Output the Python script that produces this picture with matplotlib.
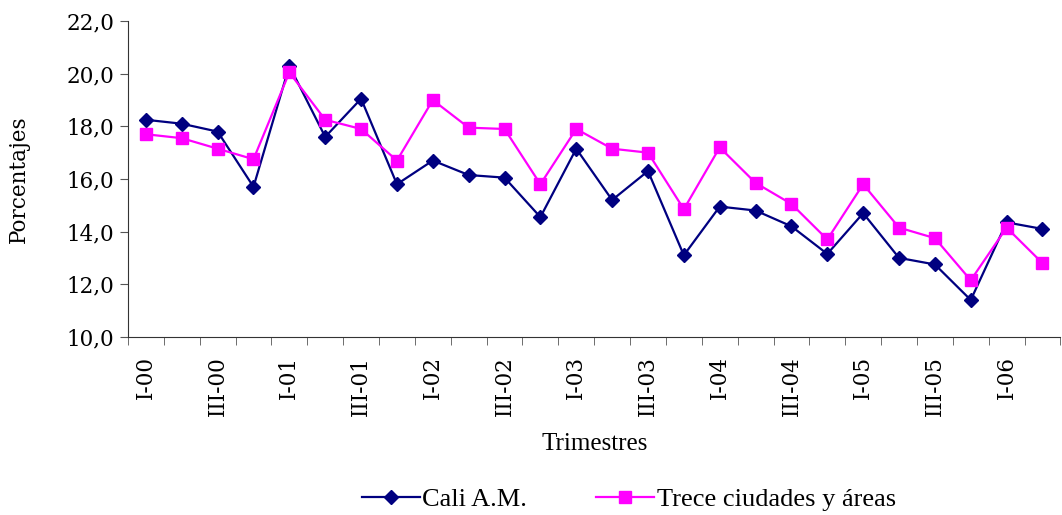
import numpy as np
import matplotlib.pyplot as plt

# Trimestres 2000-I a 2006-II
trimestres = ['I-00', 'II-00', 'III-00', 'IV-00', 'I-01', 'II-01', 'III-01', 'IV-01',
              'I-02', 'II-02', 'III-02', 'IV-02', 'I-03', 'II-03', 'III-03', 'IV-03',
              'I-04', 'II-04', 'III-04', 'IV-04', 'I-05', 'II-05', 'III-05', 'IV-05',
              'I-06', 'II-06']

cali = [18.25, 18.1, 17.8, 15.7, 20.3, 17.6, 19.05, 15.8,
        16.7, 16.15, 16.05, 14.55, 17.15, 15.2, 16.3, 13.1,
        14.95, 14.8, 14.2, 13.15, 14.7, 13.0, 12.75, 11.4,
        14.35, 14.1]

trece = [17.7, 17.55, 17.15, 16.75, 20.05, 18.25, 17.9, 16.7,
         19.0, 17.95, 17.9, 15.8, 17.9, 17.15, 17.0, 14.85,
         17.2, 15.85, 15.05, 13.7, 15.8, 14.15, 13.75, 12.15,
         14.15, 12.8]

x = np.arange(len(trimestres))

fig = plt.figure(figsize=(10.62, 5.15), dpi=100)
ax = fig.add_axes([0.1205, 0.346, 0.878, 0.613])

ax.plot(x, cali, color='#000080', lw=1.6, marker='D', markersize=7.5, label='Cali A.M.')
ax.plot(x, trece, color='#FF00FF', lw=1.6, marker='s', markersize=9, label='Trece ciudades y áreas')

ax.set_xlim(-0.5, len(trimestres) - 0.5)
ax.set_ylim(10, 22)
ax.set_yticks(np.arange(10, 22.1, 2))
ax.set_yticklabels([f'{v:.1f}'.replace('.', ',') for v in np.arange(10, 22.1, 2)],
                   fontfamily='DejaVu Serif', fontsize=15.5)

# etiquetas cada dos trimestres, marcas en los bordes de las categorias
ax.set_xticks(x[::2])
ax.set_xticklabels(trimestres[::2], rotation=90, fontfamily='DejaVu Serif', fontsize=15.5)
ax.tick_params(axis='x', which='major', length=0, pad=14)
ax.set_xticks(np.arange(-0.5, len(trimestres)), minor=True)
ax.tick_params(axis='x', which='minor', length=6, color='#555555')
ax.tick_params(axis='y', length=6, color='#555555', pad=4)

ax.spines['top'].set_visible(False)
ax.spines['right'].set_visible(False)
ax.spines['left'].set_color('#333333')
ax.spines['bottom'].set_color('#333333')

ax.set_ylabel('Porcentajes', fontfamily='DejaVu Serif', fontsize=15.5, labelpad=26)
ax.set_xlabel('Trimestres', fontfamily='Liberation Serif', fontsize=18, labelpad=12)

fig.legend(loc='center', bbox_to_anchor=(0.592, 0.03), ncol=2, frameon=False,
           prop={'family': 'Liberation Serif', 'size': 19}, handlelength=2.2,
           handletextpad=0.1, columnspacing=2.6)

plt.savefig('out.png', dpi=100)
